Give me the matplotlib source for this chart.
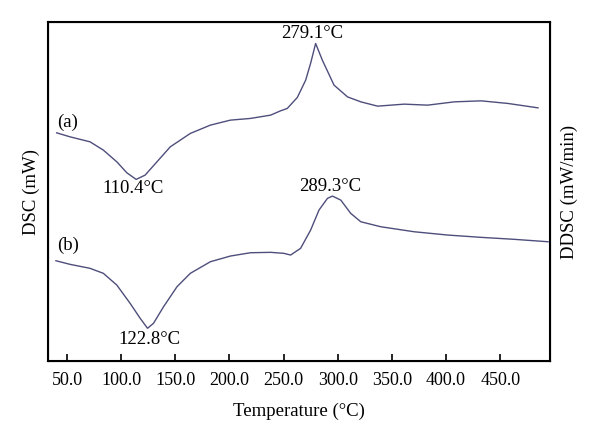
import numpy as np
import matplotlib
matplotlib.use('Agg')
import matplotlib.pyplot as plt

plt.rcParams['font.family'] = ['Liberation Serif', 'DejaVu Serif']

#===================== data ===================================================
# temperatures (deg C) and DSC signal (arbitrary units)
temp_a = [40.5, 52.8, 71.3, 83.6, 96.0, 105.3, 113.9, 122.2, 133.1, 145.4,
          163.9, 182.4, 200.9, 219.4, 238.0, 247.2, 253.4, 262.7, 270.4,
          275.0, 279.6, 285.8, 296.6, 309.0, 321.3, 336.8, 361.4, 383.0,
          407.7, 432.4, 457.1, 484.9]
dsc_a = [228.3, 224.3, 219.3, 211.0, 199.3, 188.3, 181.7, 186.0, 199.3, 214.3,
         227.7, 236.0, 241.0, 242.7, 246.0, 250.3, 252.7, 263.7, 281.0,
         298.0, 317.7, 301.0, 276.0, 264.3, 259.3, 255.0, 257.0, 256.0,
         259.3, 260.3, 257.7, 253.3]

temp_b = [39.8, 52.8, 71.3, 83.6, 96.0, 108.3, 117.6, 124.4, 129.9, 139.2,
          151.6, 163.9, 182.4, 200.9, 219.4, 238.0, 250.3, 256.5, 265.7,
          275.0, 282.7, 290.5, 295.1, 302.8, 312.0, 321.3, 339.8, 370.6,
          401.6, 432.4, 463.3, 494.2]
dsc_b = [100.3, 96.7, 92.7, 87.7, 76.0, 57.7, 42.7, 32.7, 37.7, 54.3,
         74.3, 87.7, 99.3, 105.0, 108.3, 108.7, 107.7, 106.0, 112.7,
         131.0, 151.0, 162.7, 165.0, 161.0, 147.7, 139.3, 134.3, 129.3,
         126.0, 123.7, 121.7, 119.3]

peak_labels = ['279.1°C', '110.4°C', '289.3°C', '122.8°C']
peak_temps = [279.6, 113.9, 295.1, 124.4]
peak_vals = [317.7, 181.7, 165.0, 32.7]
xticks = [50, 100, 150, 200, 250, 300, 350, 400, 450]

#===================== plotting ===============================================
fig = plt.figure(figsize=(6, 4.44), dpi=100)
ax = fig.add_axes([0.08, 0.187, 0.8367, 0.763])

line_col = '#4e4e7c'
ax.plot(temp_a, dsc_a, color=line_col, lw=1.0)
ax.plot(temp_b, dsc_b, color=line_col, lw=1.0)

ax.set_xlim(32.5, 496)
ax.set_ylim(0, 339)

# peak / dip labels
offsets = [(-3, 1, 'bottom'), (-3, -1, 'top'), (-2, 1, 'bottom'), (2, -3, 'top')]
for lab, t, v, (dx, dy, va) in zip(peak_labels, peak_temps, peak_vals, offsets):
    ax.text(t + dx, v + dy, lab, ha='center', va=va, fontsize=13.5)

ax.text(41, 239, '(a)', fontsize=13.5, ha='left', va='center')
ax.text(41, 116, '(b)', fontsize=13.5, ha='left', va='center')

ax.set_xticks(xticks)
ax.set_xticklabels(['%.1f' % t for t in xticks], fontsize=13)
ax.set_yticks([])
ax.tick_params(axis='x', direction='in', length=5, width=1.2, pad=8)
for s in ax.spines.values():
    s.set_linewidth(1.5)

ax.set_xlabel('Temperature (°C)', fontsize=13.5, labelpad=10)
ax.set_ylabel('DSC (mW)', fontsize=13.5, labelpad=6)
ax2 = ax.twinx()
ax2.set_yticks([])
ax2.set_ylabel('DDSC (mW/min)', fontsize=13.5, labelpad=8)

plt.savefig('out.png', dpi=100)
